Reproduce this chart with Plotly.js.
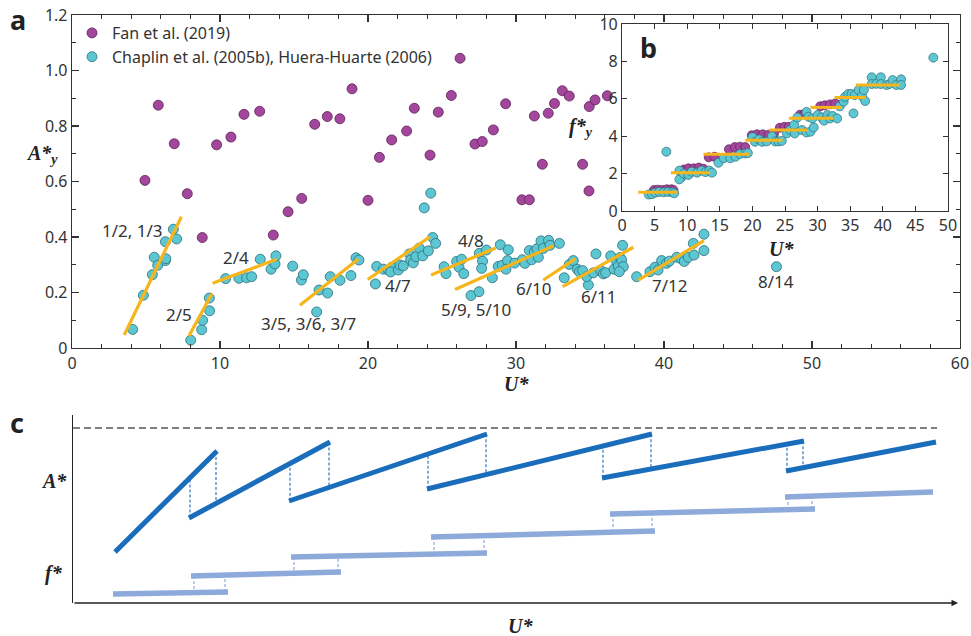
<!DOCTYPE html>
<html><head><meta charset="utf-8">
<script src="https://cdn.plot.ly/plotly-3.0.1.min.js"></script>
<style>html,body{margin:0;padding:0;background:#fff}#chart{width:971px;height:636px}</style>
</head><body><div id="chart"></div>
<script>
// ---------- Panel a: amplitude vs reduced velocity ----------
const fanU=[4.93,5.83,6.91,7.79,8.8,9.77,10.74,11.62,12.68,13.6,14.6,15.52,16.4,17.25,18.1,18.92,20.0,20.77,21.6,22.61,23.13,24.19,24.75,25.63,26.22,27.23,27.72,28.47,29.3,30.4,30.9,31.24,31.78,32.18,32.6,33.13,33.6,34.5,34.93,34.95,35.34,36.17];
const fanA=[0.604,0.875,0.736,0.556,0.398,0.732,0.760,0.842,0.853,0.407,0.491,0.539,0.806,0.834,0.826,0.934,0.532,0.687,0.750,0.782,0.864,0.695,0.850,0.910,1.044,0.735,0.744,0.786,0.880,0.534,0.534,0.836,0.662,0.846,0.881,0.927,0.908,0.662,0.566,0.870,0.894,0.909];

const chU=[4.1,4.82,5.43,5.56,5.79,6.31,6.31,6.34,6.85,7.07,
8.02,8.76,8.83,9.3,9.28,
10.38,11.28,11.8,12.14,12.72,13.45,13.72,13.78,
14.91,15.5,15.63,16.53,16.69,17.27,17.45,18.11,18.85,19.19,19.39,
20.59,20.5,21.04,21.38,21.6,21.53,22.05,22.16,22.39,22.8,22.88,23.06,23.24,23.47,23.7,24.08,24.37,24.57,23.8,24.24,
25.14,25.27,25.99,26.15,26.33,26.47,26.96,27.5,27.52,27.74,27.68,28.0,28.4,28.8,28.94,29.07,29.43,29.48,29.32,29.91,30.43,30.6,30.9,31.06,31.24,31.42,31.51,31.69,31.85,32.2,32.3,32.93,
33.26,33.6,33.87,34.14,34.28,34.5,34.89,34.78,35.23,35.4,35.72,35.9,36.06,36.4,36.62,36.8,36.91,37.03,37.14,37.2,37.25,36.98,
38.15,39.05,39.39,39.6,39.84,40.17,40.36,40.86,41.19,41.37,41.64,42.03,41.98,42.7,42.7,
47.6];
const chA=[0.067,0.190,0.264,0.327,0.298,0.383,0.315,0.322,0.428,0.393,
0.028,0.066,0.100,0.134,0.180,
0.250,0.251,0.253,0.257,0.320,0.284,0.303,0.332,
0.295,0.245,0.264,0.130,0.209,0.198,0.257,0.244,0.261,0.325,0.317,
0.294,0.231,0.284,0.281,0.291,0.274,0.281,0.299,0.296,0.339,0.317,0.307,0.329,0.360,0.332,0.350,0.398,0.377,0.505,0.558,
0.293,0.268,0.312,0.291,0.320,0.268,0.189,0.203,0.341,0.313,0.287,0.353,0.253,0.294,0.372,0.298,0.315,0.354,0.284,0.306,0.318,0.305,0.351,0.318,0.347,0.358,0.327,0.386,0.359,0.388,0.370,0.377,
0.253,0.301,0.315,0.284,0.275,0.279,0.227,0.257,0.271,0.339,0.279,0.267,0.271,0.332,0.284,0.312,0.295,0.326,0.317,0.370,0.293,0.275,
0.257,0.275,0.291,0.281,0.315,0.305,0.313,0.327,0.320,0.312,0.327,0.335,0.377,0.351,0.410,
0.293];

// linear fits per branch (start/end)
const fitU0=[3.53,7.9,9.5,15.4,19.98,24.26,25.88,31.85,33.15,38.26];
const fitU1=[7.39,9.44,13.83,19.35,24.19,28.63,32.52,34.0,37.93,42.7];
const fitA0=[0.047,0.043,0.233,0.154,0.247,0.263,0.211,0.245,0.221,0.245];
const fitA1=[0.473,0.195,0.320,0.321,0.401,0.360,0.368,0.321,0.363,0.387];

// branch labels
const branchText=['1/2, 1/3','2/5','2/4','3/5, 3/6, 3/7','4/7','4/8','5/9, 5/10','6/10','6/11','7/12','8/14'];
const branchU=[4.1,7.23,11.1,16.0,22.05,26.96,27.3,31.24,35.63,40.4,47.57];
const branchA=[0.425,0.119,0.325,0.089,0.226,0.387,0.139,0.215,0.187,0.227,0.239];

// ---------- Panel b (inset): frequency ----------
const fanFU=[4.9,5.5,6.2,6.9,7.6,7.9,9.5,10.2,11.0,11.8,12.5,13.3,14.2,16.4,17.3,18.1,18.9,19.9,20.7,21.6,22.5,23.3,24.2,24.9,25.6,27.3,28.0,30.4,31.1,31.9,32.7];
const fanFY=[1.12,1.14,1.12,1.16,1.16,1.12,2.22,2.28,2.28,2.32,2.26,2.87,2.9,3.3,3.42,3.44,3.42,4.05,4.1,4.1,4.08,4.12,4.45,4.5,4.5,5.15,5.2,5.6,5.65,5.7,5.75];
const chFU=[4.1,4.6,5.1,5.7,6.4,7.05,7.7,8.0,6.8,
8.8,9.1,8.8,9.46,10.2,10.7,11.5,12.2,12.8,13.4,13.8,
14.8,15.6,16.6,17.4,18.1,18.9,19.3,
20.0,20.4,21.0,21.5,22.2,23.0,23.5,24.0,24.5,
25.3,25.8,26.4,26.5,27.6,28.3,28.9,29.4,
26.9,28.3,28.6,29.2,30.0,30.6,31.0,31.5,31.9,32.3,33.0,
33.4,34.0,34.2,34.7,35.2,35.7,36.3,36.8,37.1,37.3,35.5,
38.3,38.3,39.0,39.7,39.7,40.6,41.1,41.5,42.1,42.8,42.8,
47.75];
const chFY=[0.88,0.9,0.98,1.02,1.0,1.02,1.0,0.95,3.17,
2.16,1.8,1.69,2.0,1.93,2.1,2.05,2.16,2.08,2.16,2.05,
2.58,2.82,2.82,2.9,3.05,3.08,3.1,
3.95,3.7,3.83,3.7,3.72,4.0,3.72,3.72,3.75,
4.15,4.33,4.6,4.15,4.33,4.2,4.24,4.47,
5.0,5.3,5.04,4.95,5.13,5.0,4.83,5.13,4.95,5.08,4.95,
5.6,5.85,6.1,6.26,6.26,6.2,6.47,6.15,6.47,5.88,5.22,
7.15,6.79,6.8,7.15,6.79,6.74,6.8,7.0,6.74,7.04,6.74,
8.2];
const stepU0=[2.5,7.5,12.5,18.9,22.6,25.6,28.9,32.6,35.9];
const stepU1=[8.5,13.5,19.5,24.6,28.5,32.4,33.7,37.4,42.5];
const stepF=[1.0,2.05,3.03,3.78,4.33,4.96,5.54,6.07,6.74];

// ---------- Panel c: schematic (arbitrary units) ----------
const ampU0=[42,116,216,354,529,713];
const ampU1=[144,257,414,579,731,863];
const ampV0=[51,85,102,114,125,132];
const ampV1=[152,161,169,169,162,161];
const frqU0=[40,118,218,358,537,712];
const frqU1=[155,268,414,582,742,860];
const frqV0=[9,27,46,66,89,106];
const frqV1=[11,31,50,72,94,111];
const limitU=[0,864], limitV=[175,175];

// ---------- helpers ----------
function segs(u0,u1,v0,v1){const x=[],y=[];for(let i=0;i<u0.length;i++){x.push(u0[i],u1[i],null);y.push(v0[i],v1[i],null);}return {x,y};}
function at(u0,u1,v0,v1,k,u){return v0[k]+(u-u0[k])*(v1[k]-v0[k])/(u1[k]-u0[k]);}
function connectors(u0,u1,v0,v1,inset){const x=[],y=[];for(let k=0;k<u0.length-1;k++){
  let u=u0[k+1]+inset; x.push(u,u,null); y.push(at(u0,u1,v0,v1,k+1,u),at(u0,u1,v0,v1,k,u),null);
  u=u1[k]-inset; x.push(u,u,null); y.push(at(u0,u1,v0,v1,k,u),at(u0,u1,v0,v1,k+1,u),null);}
  return {x,y};}

const W=971,H=636;
const px=v=>v/W, py=v=>1-v/H;

const PURPLE='#a2479b', PURPLE_L='#5e1f58', CYAN='#5cc6d2', CYAN_L='#2c6f78', ORANGE='#f6b51b';
const TXT='#333333';
const SANS='Noto Sans, Open Sans, sans-serif';
const SERIF='Liberation Serif, DejaVu Serif, serif';

const fitL=segs(fitU0,fitU1,fitA0,fitA1);
const stepL=segs(stepU0,stepU1,stepF,stepF);
const ampL=segs(ampU0,ampU1,ampV0,ampV1);
const frqL=segs(frqU0,frqU1,frqV0,frqV1);
const ampC=connectors(ampU0,ampU1,ampV0,ampV1,1);
const frqC=connectors(frqU0,frqU1,frqV0,frqV1,3);

const traces=[
 {x:fanU,y:fanA,type:'scatter',mode:'markers',name:'Fan et al. (2019)',xaxis:'x',yaxis:'y',
  marker:{color:PURPLE,size:10,line:{color:PURPLE_L,width:0.8}},cliponaxis:false},
 {x:chU,y:chA,type:'scatter',mode:'markers',name:'Chaplin et al. (2005b), Huera-Huarte (2006)',xaxis:'x',yaxis:'y',
  marker:{color:CYAN,size:10,line:{color:CYAN_L,width:0.8}},cliponaxis:false},
 {x:fitL.x,y:fitL.y,type:'scatter',mode:'lines',xaxis:'x',yaxis:'y',showlegend:false,
  line:{color:ORANGE,width:3.2}},
 {x:fanFU,y:fanFY,type:'scatter',mode:'markers',xaxis:'x2',yaxis:'y2',showlegend:false,
  marker:{color:PURPLE,size:9,line:{color:PURPLE_L,width:0.7}}},
 {x:chFU,y:chFY,type:'scatter',mode:'markers',xaxis:'x2',yaxis:'y2',showlegend:false,
  marker:{color:CYAN,size:9,line:{color:CYAN_L,width:0.7}}},
 {x:stepL.x,y:stepL.y,type:'scatter',mode:'lines',xaxis:'x2',yaxis:'y2',showlegend:false,
  line:{color:ORANGE,width:3}},
 {x:limitU,y:limitV,type:'scatter',mode:'lines',xaxis:'x3',yaxis:'y3',showlegend:false,
  line:{color:'#555555',width:1.3,dash:'7px,4px'}},
 {x:ampC.x,y:ampC.y,type:'scatter',mode:'lines',xaxis:'x3',yaxis:'y3',showlegend:false,
  line:{color:'#2f78c4',width:1.2,dash:'3px,2px'}},
 {x:frqC.x,y:frqC.y,type:'scatter',mode:'lines',xaxis:'x3',yaxis:'y3',showlegend:false,
  line:{color:'#8eaadb',width:1.2,dash:'3px,2px'}},
 {x:ampL.x,y:ampL.y,type:'scatter',mode:'lines',xaxis:'x3',yaxis:'y3',showlegend:false,
  line:{color:'#1a6dbb',width:5}},
 {x:frqL.x,y:frqL.y,type:'scatter',mode:'lines',xaxis:'x3',yaxis:'y3',showlegend:false,
  line:{color:'#8eaadb',width:5.5}}
];

const tickFont={family:SANS,size:16,color:TXT};
const ann=[];
function lab(text,x,y,size,opts){ann.push(Object.assign({text,x,y,xref:'paper',yref:'paper',showarrow:false,
  font:{family:SERIF,size:size,color:'#222'},xanchor:'center',yanchor:'middle'},opts||{}));}
// panel letters
lab('<b>a</b>',px(18),py(19),27,{font:{family:SANS,size:27,color:'#222'}});
lab('<b>b</b>',px(648),py(47),27,{font:{family:SANS,size:27,color:'#222'}});
lab('<b>c</b>',px(17),py(422),27,{font:{family:SANS,size:27,color:'#222'}});
// axis titles
lab('<b><i>A*</i></b><sub><b><i>y</i></b></sub>',px(42),py(154),20);
lab('<b><i>U*</i></b>',px(516),py(384),20);
lab('<b><i>f*</i></b><sub><b><i>y</i></b></sub>',px(581),py(127),20);
lab('<b><i>U*</i></b>',px(781),py(249),20);
lab('<b><i>A*</i></b>',px(54),py(481),20);
lab('<b><i>f*</i></b>',px(54),py(573),20);
lab('<b><i>U*</i></b>',px(520),py(626),20);
// branch labels
for(let i=0;i<branchText.length;i++){
  ann.push({text:branchText[i],x:branchU[i],y:branchA[i],xref:'x',yref:'y',showarrow:false,
    font:{family:SANS,size:17,color:TXT},xanchor:'center',yanchor:'middle'});
}
// panel c horizontal axis arrow
ann.push({x:885,y:0,ax:0,ay:0,xref:'x3',yref:'y3',axref:'x3',ayref:'y3',text:'',showarrow:true,
  arrowhead:2,arrowsize:1,arrowwidth:1.3,arrowcolor:'#222',standoff:0,startstandoff:0});

const layout={
 width:W,height:H,margin:{l:0,r:0,t:0,b:0},paper_bgcolor:'#fff',plot_bgcolor:'#fff',
 showlegend:true,
 legend:{x:px(72),y:py(16),xanchor:'left',yanchor:'top',bgcolor:'rgba(0,0,0,0)',
   font:{family:SANS,size:16,color:TXT},tracegroupgap:0,itemsizing:'trace'},
 xaxis:{domain:[px(72),px(960)],anchor:'y',range:[0,60],tickmode:'linear',tick0:0,dtick:10,
   ticks:'inside',ticklen:7,tickwidth:1.2,tickcolor:'#333',showline:true,linecolor:'#333',linewidth:1.3,
   mirror:'allticks',showgrid:false,zeroline:false,tickfont:tickFont,
   minor:{tickmode:'linear',tick0:0,dtick:2,ticks:'inside',ticklen:4,tickcolor:'#333',tickwidth:1}},
 yaxis:{domain:[py(348),py(15)],anchor:'x',range:[0,1.2],tickmode:'array',
   tickvals:[0,0.2,0.4,0.6,0.8,1.0,1.2],ticktext:['0','0.2','0.4','0.6','0.8','1.0','1.2'],
   ticks:'inside',ticklen:7,tickwidth:1.2,tickcolor:'#333',showline:true,linecolor:'#333',linewidth:1.3,
   mirror:'allticks',showgrid:false,zeroline:false,tickfont:tickFont,
   minor:{tickmode:'linear',tick0:0,dtick:0.1,ticks:'inside',ticklen:4,tickcolor:'#333',tickwidth:1}},
 xaxis2:{domain:[px(622),px(948)],anchor:'y2',range:[0,50],tickmode:'linear',tick0:0,dtick:5,
   ticks:'inside',ticklen:5,tickwidth:1,tickcolor:'#333',showline:true,linecolor:'#333',linewidth:1.1,
   mirror:'allticks',showgrid:false,zeroline:false,tickfont:tickFont},
 yaxis2:{domain:[py(211),py(24)],anchor:'x2',range:[0,10],tickmode:'linear',tick0:0,dtick:2,
   ticks:'inside',ticklen:5,tickwidth:1,tickcolor:'#333',showline:true,linecolor:'#333',linewidth:1.1,
   mirror:'allticks',showgrid:false,zeroline:false,tickfont:tickFont},
 xaxis3:{domain:[px(73),px(958)],anchor:'y3',range:[0,885],showline:false,showticklabels:false,
   ticks:'',showgrid:false,zeroline:false},
 yaxis3:{domain:[py(603),py(415)],anchor:'x3',range:[0,188],showline:true,linecolor:'#222',linewidth:1.3,
   mirror:false,showticklabels:false,ticks:'',showgrid:false,zeroline:false},
 annotations:ann
};
Plotly.newPlot('chart',traces,layout,{staticPlot:true,displayModeBar:false});
</script>
</body></html>
